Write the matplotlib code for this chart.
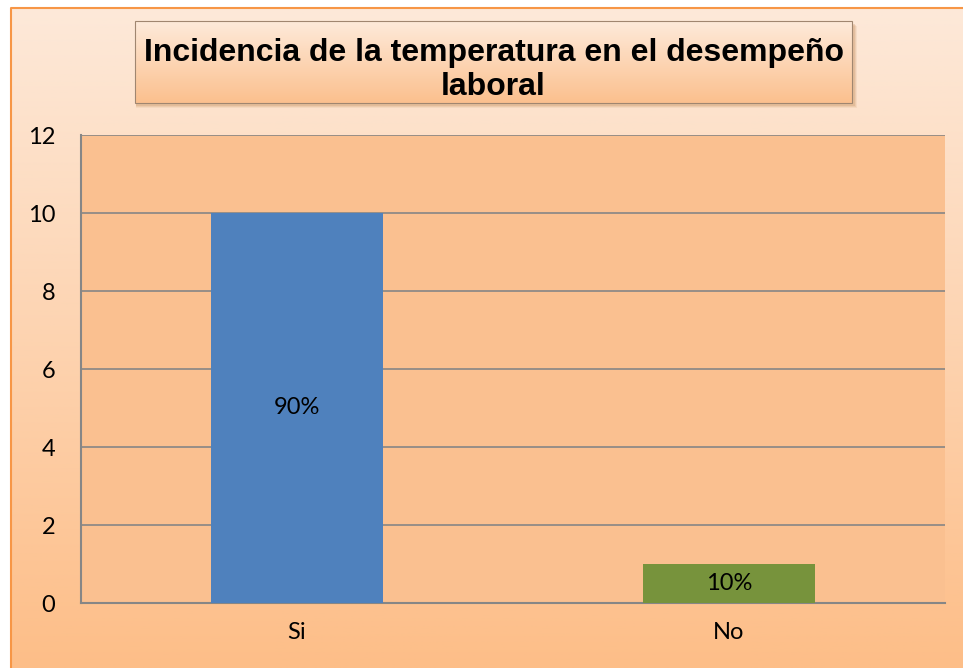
import numpy as np
import matplotlib
matplotlib.use("Agg")
import matplotlib.pyplot as plt
from matplotlib.patches import Rectangle

categorias = ["Si", "No"]
valores = [10, 1]
etiquetas = ["90%", "10%"]
colores = ["#4F81BD", "#77933C"]
titulo = "Incidencia de la temperatura en el desempeño\nlaboral"

W, H = 963, 668
fig = plt.figure(figsize=(W / 100, H / 100), dpi=100)

# fondo con degradado (como el area del grafico de Excel)
bg = fig.add_axes([0, 0, 1, 1], zorder=0)
bg.axis("off")
top = np.array([0xFD, 0xE9, 0xD9]) / 255
bot = np.array([0xFD, 0xBE, 0x88]) / 255
t = np.linspace(0, 1, 256)[:, None]
grad = (top * (1 - t) + bot * t)[:, None, :].repeat(2, axis=1)
bg.imshow(grad, extent=[11, W, H, 8], aspect="auto", zorder=0)
bg.plot([11, 11, W], [H, 8, 8], color="#F79646", lw=1.5, zorder=1)

# caja del titulo con sombra y degradado
bx0, by0, bx1, by1 = 135, 21, 852, 103
for k, a in [(5, 0.12), (4, 0.18), (3, 0.25)]:
    bg.add_patch(Rectangle((bx0 + 1, by0 + k), bx1 - bx0 + k - 1, by1 - by0,
                           color="#C8905E", alpha=a, lw=0, zorder=2))
tt = np.linspace(0, 1, 128)[:, None]
t_top = np.array([0xFE, 0xEA, 0xDA]) / 255
t_bot = np.array([0xFB, 0xC0, 0x8E]) / 255
tgrad = (t_top * (1 - tt) + t_bot * tt)[:, None, :].repeat(2, axis=1)
bg.imshow(tgrad, extent=[bx0, bx1, by1, by0], aspect="auto", zorder=3)
bg.add_patch(Rectangle((bx0, by0), bx1 - bx0, by1 - by0, fill=False,
                       edgecolor="#A08670", lw=0.8, zorder=4))
bg.text((bx0 + bx1) / 2, (by0 + by1) / 2 + 8, titulo, ha="center", va="center",
        fontsize=23, fontweight="bold", family="Liberation Sans",
        linespacing=1.2, color="black", zorder=5)
bg.set_xlim(0, W)
bg.set_ylim(H, 0)

# area de trazado
ax = fig.add_axes([81 / W, (H - 603) / H, (945 - 81) / W, (603 - 135) / H], zorder=1)
ax.set_facecolor("#FAC090")
x = np.arange(len(categorias))
barras = ax.bar(x, valores, width=0.4, color=colores, zorder=3)
for b, lab in zip(barras, etiquetas):
    ax.text(b.get_x() + b.get_width() / 2, b.get_height() / 2, lab,
            ha="center", va="center", fontsize=17, family="Lato", zorder=4)

ax.set_xlim(-0.5, 1.5)
ax.set_ylim(0, 12)
ax.set_yticks(range(0, 13, 2))
ax.set_xticks(x)
ax.set_xticklabels(categorias)
ax.yaxis.grid(True, color="#868686", lw=1.2, zorder=1)
ax.set_axisbelow(True)
for s in ["top", "right"]:
    ax.spines[s].set_visible(False)
for s in ["left", "bottom"]:
    ax.spines[s].set_color("#868686")
    ax.spines[s].set_linewidth(1.5)
ax.tick_params(axis="both", length=0, labelsize=17)
ax.tick_params(axis="y", pad=18.5)
ax.tick_params(axis="x", pad=14)
for lab in ax.get_xticklabels() + ax.get_yticklabels():
    lab.set_family("Lato")

fig.savefig("out.png", dpi=100)
